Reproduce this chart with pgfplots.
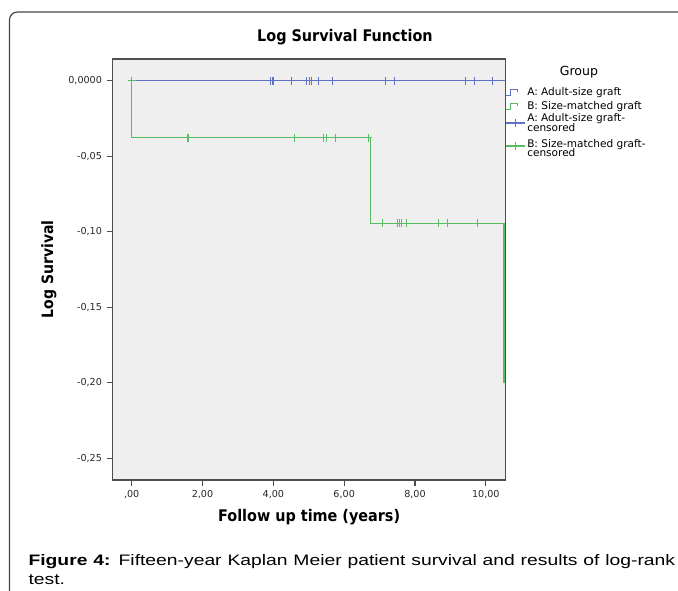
\documentclass[border=0pt]{standalone}
\usepackage{fontspec}
\setmainfont{DejaVu Sans}
\newfontfamily\condfont{DejaVu Sans Condensed}
\newfontfamily\capfont{Liberation Sans}[FakeStretch=1.27]
\usepackage{pgfplots}
\pgfplotsset{compat=1.18}

\definecolor{spssblue}{RGB}{96,114,196}
\definecolor{spssgreen}{RGB}{88,188,98}
\definecolor{framegray}{RGB}{78,78,78}
\definecolor{plotbg}{RGB}{239,239,239}

% censoring times
\pgfplotstableread{
x y
0 0
3.93 0
3.99 0
4.52 0
4.94 0
5.01 0
5.07 0
5.28 0
5.68 0
7.16 0
7.41 0
9.42 0
9.67 0
10.19 0
}\censA
\pgfplotstableread{
x y
0 0
1.59 -0.0377
4.59 -0.0377
5.42 -0.0377
5.51 -0.0377
5.76 -0.0377
6.68 -0.0377
7.09 -0.0945
7.51 -0.0945
7.57 -0.0945
7.61 -0.0945
7.77 -0.0945
8.67 -0.0945
8.93 -0.0945
9.76 -0.0945
}\censB

% legend glyphs: step icon and line-with-cross, #1 colour, #2 vertical shift
\newcommand\stepicon[2]{%
  \path[draw=none] (0pt,0pt) -- (14pt,0pt);
  \draw[overlay, #1, line width=0.9pt] (0.4pt,-2.4pt+#2) -- (3.6pt,-2.4pt+#2)
    -- (3.6pt,2.1pt+#2) -- (8.4pt,2.1pt+#2) -- (8.4pt,0.3pt+#2);}
\newcommand\censicon[2]{%
  \path[draw=none] (0pt,0pt) -- (14pt,0pt);
  \draw[overlay, #1, line width=0.8pt] (0pt,#2) -- (14pt,#2)
    (7pt,-3pt+#2) -- (7pt,3pt+#2);}

\begin{document}
\begin{tikzpicture}
% page is 678 x 590 px, 1 px = 0.75pt
\path[use as bounding box] (0,0) rectangle (508.5pt,-442.5pt);
\draw[black!72, line width=0.9pt, rounded corners=6pt]
  (7.1pt,-450pt) -- (7.1pt,-9pt) -- (515pt,-9pt);

\begin{axis}[
  at={(84.5pt,-360pt)}, anchor=south west,
  width=294.75pt, height=315.75pt, scale only axis,
  xmin=-0.537, xmax=10.56, ymin=-0.2644, ymax=0.0144,
  clip mode=individual,
  axis background/.style={fill=plotbg},
  axis line style={framegray, line width=1pt},
  tick style={framegray, line width=0.9pt},
  tick pos=left, tick align=outside, major tick length=4.5pt,
  xtick={0,2,4,6,8,10},
  xticklabels={{,00},{2,00},{4,00},{6,00},{8,00},{10,00}},
  ytick={-0.25,-0.2,-0.15,-0.1,-0.05,0},
  yticklabels={{-0,25},{-0,20},{-0,15},{-0,10},{-0,05},{0,0000}},
  ticklabel style={font=\fontsize{7.2}{8}\selectfont, text=black!85},
  title={Log Survival Function},
  title style={font=\condfont\bfseries\fontsize{12}{14}\selectfont,
    at={(axis description cs:0.591,1.033)}, anchor=center},
  xlabel={Follow up time (years)},
  xlabel style={font=\condfont\bfseries\fontsize{12}{14}\selectfont,
    at={(axis description cs:0.5,-0.088)}, anchor=center},
  ylabel={Log Survival},
  ylabel style={font=\condfont\bfseries\fontsize{11.7}{14}\selectfont,
    at={(axis description cs:-0.162,0.5)}, anchor=center, rotate=0},
  legend style={draw=none, fill=none, at={(axis description cs:1,0.9368)},
    anchor=north west, inner sep=0pt, row sep=0pt,
    nodes={inner xsep=2pt, inner ysep=0pt, text height=7.475pt, text depth=1.675pt},
    font=\fontsize{7.9}{8}\selectfont},
  legend cell align=left,
]
\addplot[spssblue, line width=1.1pt, const plot,
  legend image code/.code={\stepicon{spssblue}{0pt}}]
  coordinates {(0,0) (10.56,0)};
\addlegendentry{A: Adult-size graft}

\addplot[spssgreen, line width=1.1pt, const plot,
  legend image code/.code={\stepicon{spssgreen}{-1.35pt}}]
  coordinates {(0,0) (0,-0.0377) (6.75,-0.0945) (10.51,-0.1999)};
\addlegendentry{\raisebox{-1.35pt}{B: Size-matched graft}}

\addplot[only marks, mark=+, mark size=3pt, mark options={spssblue, line width=0.8pt},
  legend image code/.code={\censicon{spssblue}{-4.95pt}}]
  table {\censA};
\addlegendentry{\raisebox{-1.2pt}{A: Adult-size graft-}}
\addlegendimage{empty legend}
\addlegendentry{\raisebox{0.45pt}{censored}}

\addplot[only marks, mark=+, mark size=3pt, mark options={spssgreen, line width=0.8pt},
  legend image code/.code={\censicon{spssgreen}{-3.9pt}}]
  table {\censB};
\addlegendentry{\raisebox{-1.9pt}{B: Size-matched graft-}}
\addlegendimage{empty legend}
\addlegendentry{censored}

\node[font=\fontsize{9.4}{11}\selectfont, anchor=center]
  at (axis description cs:1.1865,0.968) {Group};
\end{axis}

\node[anchor=north west, inner sep=0pt, text width=485pt, align=justify,
  font=\capfont\fontsize{11.4}{14.6}\selectfont] at (21.2pt,-415.6pt)
  {{\bfseries Figure 4:} Fifteen-year Kaplan Meier patient survival and results of \mbox{log-rank}\linebreak test.};
\end{tikzpicture}
\end{document}
